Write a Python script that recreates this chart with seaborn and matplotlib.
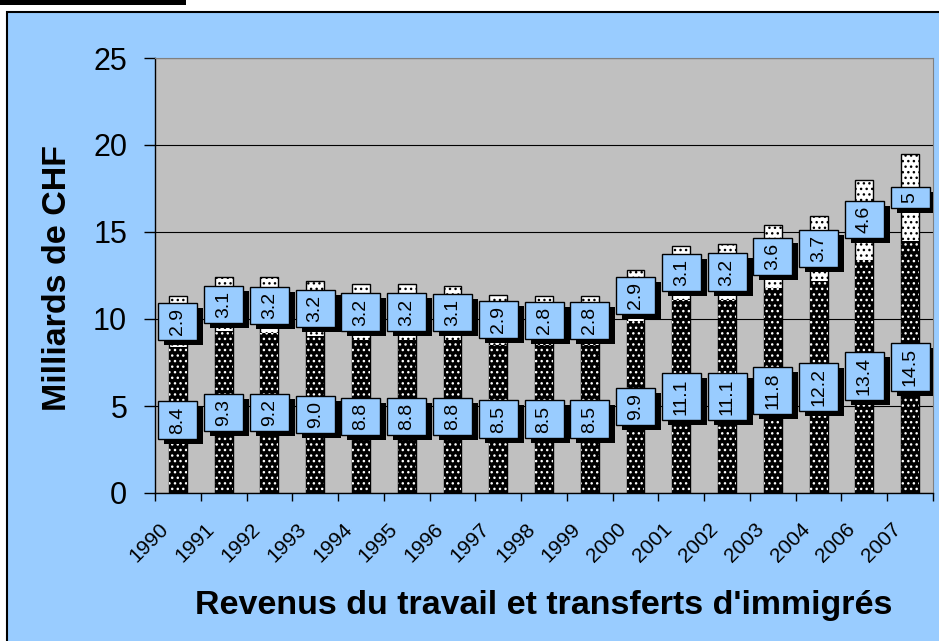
import matplotlib
matplotlib.use("Agg")
import numpy as np
import matplotlib.pyplot as plt
import matplotlib.transforms as mtransforms
from matplotlib.patches import Rectangle
import seaborn as sns

# données (milliards de CHF)
years = ["1990", "1991", "1992", "1993", "1994", "1995", "1996", "1997", "1998",
         "1999", "2000", "2001", "2002", "2003", "2004", "2006", "2007"]
travail = [8.4, 9.3, 9.2, 9.0, 8.8, 8.8, 8.8, 8.5, 8.5, 8.5, 9.9, 11.1, 11.1, 11.8, 12.2, 13.4, 14.5]
transferts = [2.9, 3.1, 3.2, 3.2, 3.2, 3.2, 3.1, 2.9, 2.8, 2.8, 2.9, 3.1, 3.2, 3.6, 3.7, 4.6, 5]
total = [a + b for a, b in zip(travail, transferts)]

sns.set_style("white")
plt.rcParams["font.family"] = ["Liberation Sans", "DejaVu Sans"]
plt.rcParams["hatch.linewidth"] = 1.0
for k in ["text.color", "axes.labelcolor", "xtick.color", "ytick.color"]:
    plt.rcParams[k] = "black"

bleu = "#99CCFF"
W, H = 939, 641

fig = plt.figure(figsize=(W / 100, H / 100), dpi=100, facecolor="white")
fig.add_artist(Rectangle((7 / W, -0.01), 1.0, 1 - 12 / H + 0.01, transform=fig.transFigure,
                         fc=bleu, ec="black", lw=1.5, zorder=-2))
fig.add_artist(Rectangle((0, 1 - 5 / H), 186 / W, 5 / H, transform=fig.transFigure,
                         fc="black", ec="none", zorder=-1))

ax = fig.add_axes([155 / W, 1 - 493 / H, (933 - 155) / W, (493 - 58) / H])
ax.set_facecolor("#C0C0C0")

# barres empilées : total (blanc pointillé) puis travail (noir pointillé)
sns.barplot(x=years, y=total, color="white", edgecolor="black", linewidth=1, hatch="...",
            width=0.39, saturation=1, errorbar=None, ax=ax, zorder=2)
sns.barplot(x=years, y=travail, color="black", edgecolor="white", linewidth=0, hatch="...",
            width=0.39, saturation=1, errorbar=None, ax=ax, zorder=2)

ax.set_xlim(-0.5, len(years) - 0.5)
ax.set_ylim(0, 25)
ax.set_yticks([0, 5, 10, 15, 20, 25])
ax.yaxis.grid(True, color="black", lw=0.8)
ax.set_axisbelow(True)

for side in ["top", "right"]:
    ax.spines[side].set_color("#808080")
for side in ["left", "bottom"]:
    ax.spines[side].set_color("black")
    ax.spines[side].set_linewidth(1)

ax.tick_params(axis="y", left=True, length=8, width=1, color="black", pad=12, labelsize=22)
ax.set_xticks(range(len(years)))
ax.set_xticklabels(years, rotation=45, ha="right", va="center", rotation_mode="anchor", fontsize=15)
ax.tick_params(axis="x", which="major", bottom=True, length=0, pad=24)
ax.set_xticks(np.arange(-0.5, len(years), 1), minor=True)
ax.tick_params(axis="x", which="minor", bottom=True, length=6, width=1, color="black")
shift = mtransforms.ScaledTranslation(-12 / 100, 0, fig.dpi_scale_trans)
for lab in ax.get_xticklabels():
    lab.set_transform(lab.get_transform() + shift)

ax.set_ylabel("Milliards de CHF", fontsize=24.5, fontweight="bold", va="baseline")
ax.yaxis.set_label_coords((66 - 155) / 778, 0.494)
ax.set_xlabel("Revenus du travail et transferts d'immigrés", fontsize=24.5,
              fontweight="bold", va="baseline")
ax.xaxis.set_label_coords(0.5, (493 - 614) / 435)

# étiquettes dans des boîtes avec ombre
labels = []
for i in range(len(years)):
    labels.append((i, travail[i] / 2, f"{travail[i]:.1f}"))
    labels.append((i, travail[i] + transferts[i] / 2, f"{transferts[i]:g}"))

fig.canvas.draw()
renderer = fig.canvas.get_renderer()
for x, y, s in labels:
    t = ax.text(x, y, s, rotation=90, ha="center", va="center", fontsize=14, zorder=6)
    ext = t.get_window_extent(renderer)
    bw = 39 / 100
    bh = (ext.height + 10) / 100
    tr = fig.dpi_scale_trans + mtransforms.ScaledTranslation(x, y, ax.transData)
    ax.add_patch(Rectangle((-bw / 2 + 0.06, -bh / 2 - 0.05), bw, bh, transform=tr,
                           fc="black", ec="none", zorder=4))
    ax.add_patch(Rectangle((-bw / 2, -bh / 2), bw, bh, transform=tr,
                           fc=bleu, ec="black", lw=1, zorder=5))

fig.savefig("out.png", dpi=100, facecolor=fig.get_facecolor())
